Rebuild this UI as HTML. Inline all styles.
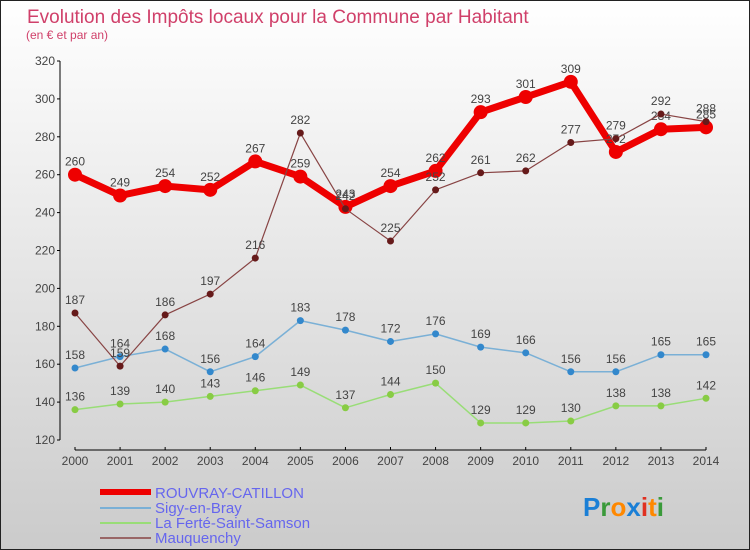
<!DOCTYPE html>
<html><head><meta charset="utf-8"><style>
body{margin:0}
#c{width:750px;height:550px;position:relative;overflow:hidden;font-family:"Liberation Sans",sans-serif}
</style></head><body>
<div id="c">
<svg id="s" width="750" height="550" xmlns="http://www.w3.org/2000/svg">
<defs><linearGradient id="bg" x1="0" y1="0" x2="0" y2="1"><stop offset="0" stop-color="#ffffff"/><stop offset="1" stop-color="#cbcbcb"/></linearGradient></defs>
<rect x="0.5" y="0.5" width="749" height="549" fill="url(#bg)" stroke="#222"/>
<text x="27" y="23" font-size="19" fill="#d0406a">Evolution des Impôts locaux pour la Commune par Habitant</text>
<text x="26" y="39" font-size="12" fill="#d0406a">(en € et par an)</text>
<g id="axes"></g><g id="series"></g>
<g>
<line x1="100" y1="492" x2="151" y2="492" stroke="#ee0000" stroke-width="6"/>
<text x="155" y="498" font-size="15" fill="#6666ee">ROUVRAY-CATILLON</text>
<line x1="100" y1="508" x2="151" y2="508" stroke="#7ab0d6" stroke-width="2"/>
<text x="155" y="513" font-size="15" fill="#6666ee">Sigy-en-Bray</text>
<line x1="100" y1="523" x2="151" y2="523" stroke="#99dd77" stroke-width="2"/>
<text x="155" y="528" font-size="15" fill="#6666ee">La Ferté-Saint-Samson</text>
<line x1="100" y1="538" x2="151" y2="538" stroke="#996666" stroke-width="2"/>
<text x="155" y="543" font-size="15" fill="#6666ee">Mauquenchy</text>
</g>
<g font-size="26" font-weight="bold" font-family="'Liberation Sans',sans-serif">
<text x="583" y="516"><tspan fill="#1a7fd6">P</tspan><tspan fill="#3a9a3a">r</tspan><tspan fill="#ff8800">o</tspan><tspan fill="#1a7fd6">x</tspan><tspan fill="#e03020">i</tspan><tspan fill="#ff8800">t</tspan><tspan fill="#3a9a3a">i</tspan></text>
</g>
</svg>
</div>
<script>
const years=[2000,2001,2002,2003,2004,2005,2006,2007,2008,2009,2010,2011,2012,2013,2014];
const yTicks=[120,140,160,180,200,220,240,260,280,300,320];
const rouvray=[260,249,254,252,267,259,243,254,262,293,301,309,272,284,285];
const sigy=[158,164,168,156,164,183,178,172,176,169,166,156,156,165,165];
const ferte=[136,139,140,143,146,149,137,144,150,129,129,130,138,138,142];
const mauquenchy=[187,159,186,197,216,282,242,225,252,261,262,277,279,292,288];
const NS="http://www.w3.org/2000/svg";
const X0=75,X1=706,Y0=440,Y1=61,VMIN=120,VMAX=320;
function xs(i){return X0+(X1-X0)*i/(years.length-1);}
function ys(v){return Y0-(v-VMIN)/(VMAX-VMIN)*(Y0-Y1);}
function mk(tag,attrs,parent){const e=document.createElementNS(NS,tag);for(const k in attrs)e.setAttribute(k,attrs[k]);parent.appendChild(e);return e;}
const ax=document.getElementById('axes');
let yl=mk('line',{x1:60,y1:Y1,x2:60,y2:Y0,stroke:'#000'},ax);


yTicks.forEach(t=>{
 mk('line',{x1:57,y1:ys(t),x2:60,y2:ys(t),stroke:'#000'},ax);
 const tx=mk('text',{x:55,y:ys(t)+4,'font-size':12,fill:'#444','text-anchor':'end'},ax);
 tx.textContent=t;
 
 
});
let xl=mk('line',{x1:X0,y1:450,x2:X1,y2:450,stroke:'#000'},ax);


years.forEach((y,i)=>{
 mk('line',{x1:xs(i),y1:447,x2:xs(i),y2:450,stroke:'#000'},ax);
 const tx=mk('text',{x:xs(i),y:465,'font-size':12,fill:'#444','text-anchor':'middle'},ax);
 tx.textContent=y;
 
 
});
const sg=document.getElementById('series');
function draw(data,name,color,w,r,dot){
 const g=mk('g',{},sg);
 
 
 const pts=data.map((v,i)=>xs(i)+','+ys(v)).join(' ');
 const pl=mk('polyline',{points:pts,fill:'none',stroke:color,'stroke-width':w,'stroke-linejoin':'round'},g);
 
 
 data.forEach((v,i)=>{
  const c=mk('circle',{cx:xs(i),cy:ys(v),r:r,fill:dot},g);
  
  
  const t=mk('text',{x:xs(i),y:ys(v)-9,'font-size':12,fill:'#444','text-anchor':'middle'},g);
  t.textContent=v;
  
  
 });
}
draw(ferte,'ferte','#99dd77',1.5,3.5,'#88cc44');
draw(sigy,'sigy','#7ab0d6',1.5,3.5,'#3388cc');
draw(rouvray,'rouvray','#ee0000',7,7,'#ee0000');
draw(mauquenchy,'mauquenchy','#884444',1.2,3.5,'#661a1a');
</script>
</body></html>
